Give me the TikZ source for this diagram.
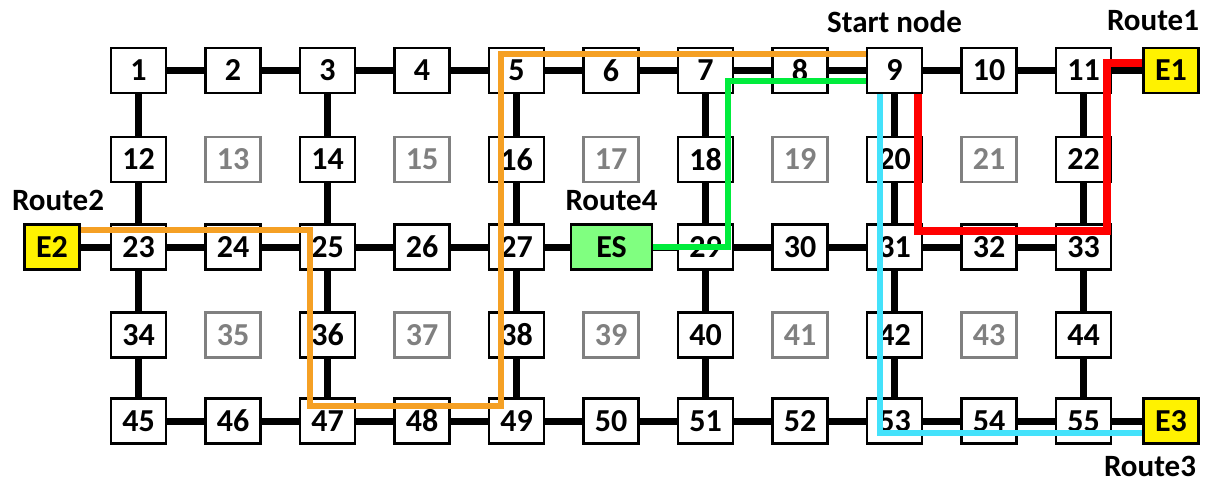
\documentclass[tikz,border=0pt]{standalone}
\usepackage{fontspec}
\setmainfont{Carlito}
\usetikzlibrary{positioning}
\definecolor{routeorange}{HTML}{F5A024}
\definecolor{routegreen}{HTML}{00EC3C}
\definecolor{routecyan}{HTML}{44E2FB}
\definecolor{routered}{HTML}{FF0000}
\definecolor{esgreen}{HTML}{80FF80}

\begin{document}
\begin{tikzpicture}[
    x=0.5pt, y=-0.5pt,
    cell/.style={draw, line width=1.3pt, fill=white, minimum width=27.5pt, minimum height=22.5pt, inner sep=0pt, font=\bfseries\fontsize{16}{18}\selectfont},
    idle/.style={cell, draw=gray, text=gray},
    exitbox/.style={cell, fill=yellow},
    link/.style={line width=3.5pt},
    route/.style={line width=3.4pt},
    tag/.style={font=\bfseries\fontsize{15.5}{17}\selectfont, inner sep=1pt}
]
\useasboundingbox (0,0) rectangle (1207,483);

% grid of cells, 11 per row
\foreach \k in {1,...,55}{
  \pgfmathtruncatemacro{\c}{mod(\k-1,11)}
  \pgfmathtruncatemacro{\r}{(\k-1-\c)/11}
  \pgfmathsetmacro{\rowy}{{70.5,159.5,247,335,421}[\r]}
  \pgfmathtruncatemacro{\isidle}{and(isodd(\r),isodd(\c))}
  \ifnum\k=28\else
    \ifnum\isidle=1
      \node[idle] (n\k) at (138.5+94.5*\c, \rowy) {\k};
    \else
      \node[cell] (n\k) at (138.5+94.5*\c, \rowy) {\k};
    \fi
  \fi
}
\node[cell, fill=esgreen, minimum width=40.5pt] (ES) at (611.5,247) {ES};
\node[exitbox] (E1) at (1171,70.5) {E1};
\node[exitbox] (E2) at (52,247) {E2};
\node[exitbox] (E3) at (1171,421) {E3};

% labels
\node[tag, above=6pt of n9] (start) {Start node};
\node[tag, above=7pt of E1, xshift=-9pt] (r1) {Route1};
\node[tag, above=5pt of E2, xshift=3pt] (r2) {Route2};
\node[tag, below=4.5pt of E3, xshift=-10.5pt] (r3) {Route3};
\node[tag, above=5pt of ES] (r4) {Route4};

% links
\foreach \a in {1,...,10,45,46,...,54}{
  \pgfmathtruncatemacro{\b}{\a+1}
  \draw[link] (n\a) -- (n\b);
}
\foreach \a/\b in {23/24,24/25,25/26,26/27,29/30,30/31,31/32,32/33}
  \draw[link] (n\a) -- (n\b);
\draw[link] (n27) -- (ES);
\draw[link] (ES) -- (n29);
\foreach \c in {1,3,5,7,9,11}{
  \foreach \r in {0,...,3}{
    \pgfmathtruncatemacro{\a}{11*\r+\c}
    \pgfmathtruncatemacro{\b}{\a+11}
    \draw[link] (n\a) -- (n\b);
  }
}
\draw[link] (n11) -- (E1);
\draw[link] (E2) -- (n23);
\draw[link] (n55) -- (E3);

% routes
\draw[route, routeorange] ([yshift=8.5pt]E2.east) -| (310,406) -| (501,54) -- (n9.west |- 0,54);
\draw[route, routegreen] (ES.east) -| (728,81) -- (n9.west |- 0,81);
\draw[route, routecyan] ([xshift=-7.25pt]n9.south) |- (E3.west |- 0,433);
\draw[route, routered, line width=4pt] ([xshift=11.5pt]n9.south) |- (1107,231) |- (E1.west |- 0,63);
\end{tikzpicture}
\end{document}
